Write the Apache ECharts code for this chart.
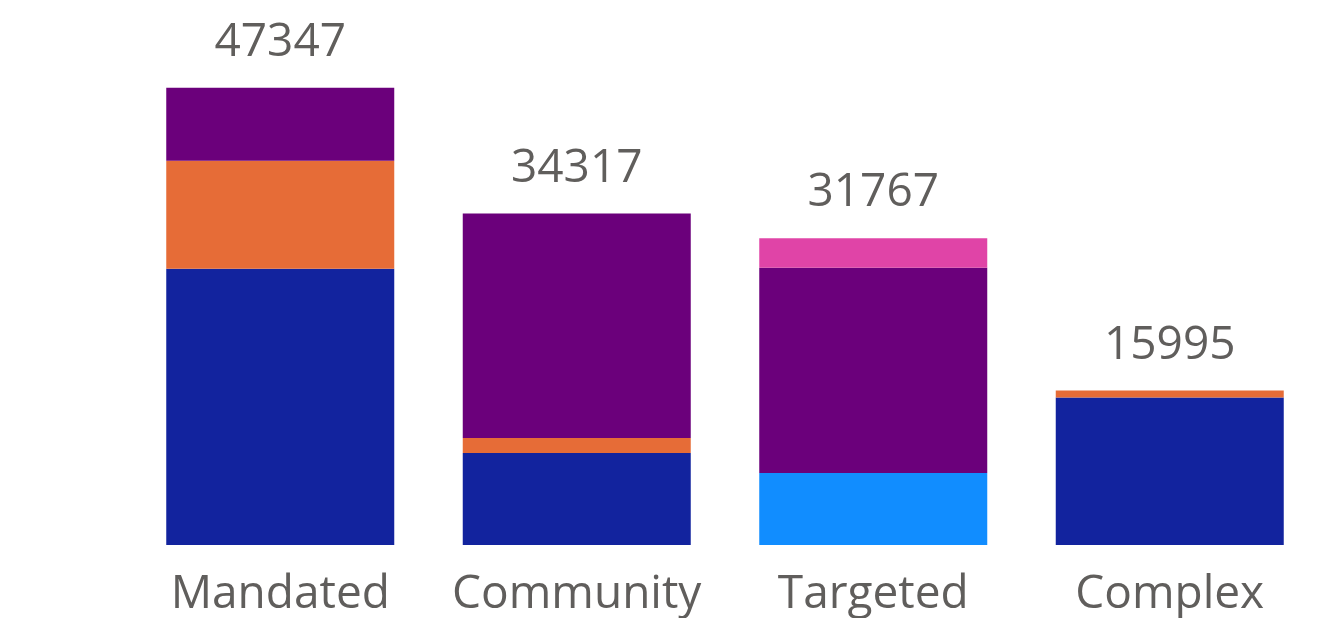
<!DOCTYPE html>
<html>
<head>
<meta charset="utf-8">
<script src="https://cdn.jsdelivr.net/npm/echarts@6/dist/echarts.min.js"></script>
<style>
html, body { margin: 0; padding: 0; background: #fff; }
#chart { width: 1318px; height: 618px; }
</style>
</head>
<body>
<div id="chart"></div>
<script>
// categories and values
const categories = ['Mandated', 'Community', 'Targeted', 'Complex'];
const darkBlue = [28600, 9530, 0, 15270];
const lightBlue = [0, 0, 7460, 0];
const orange = [11190, 1550, 0, 725];
const purple = [7557, 23237, 21240, 0];
const pink = [0, 0, 3067, 0];
const totals = [47347, 34317, 31767, 15995];

const myChart = echarts.init(document.getElementById('chart'));

const seg = (name, color, data) => ({
    name: name,
    type: 'bar',
    stack: 'total',
    barWidth: 228,
    itemStyle: { color: color },
    data: data
});

const option = {
    animation: false,
    textStyle: { fontFamily: 'Open Sans' },
    grid: { left: 132, width: 1190, top: 62, bottom: 73 },
    xAxis: {
        type: 'category',
        data: categories,
        axisLine: { show: false },
        axisTick: { show: false },
        axisLabel: { color: '#605E5C', fontSize: 46, margin: 27, interval: 0, fontFamily: 'Open Sans' }
    },
    yAxis: {
        type: 'value',
        min: 0,
        max: 50000,
        show: false
    },
    series: [
        seg('Dark blue', '#12239E', darkBlue),
        seg('Light blue', '#118DFF', lightBlue),
        seg('Orange', '#E66C37', orange),
        seg('Purple', '#6B007B', purple),
        seg('Pink', '#E044A7', pink),
        {
            name: 'Total',
            type: 'bar',
            stack: 'total',
            barWidth: 228,
            itemStyle: { color: 'transparent' },
            data: totals.map(() => 0),
            label: {
                show: true,
                position: 'top',
                distance: 22,
                color: '#605E5C',
                fontSize: 46,
                fontFamily: 'Open Sans',
                formatter: p => totals[p.dataIndex]
            }
        }
    ]
};

myChart.setOption(option);
</script>
</body>
</html>
